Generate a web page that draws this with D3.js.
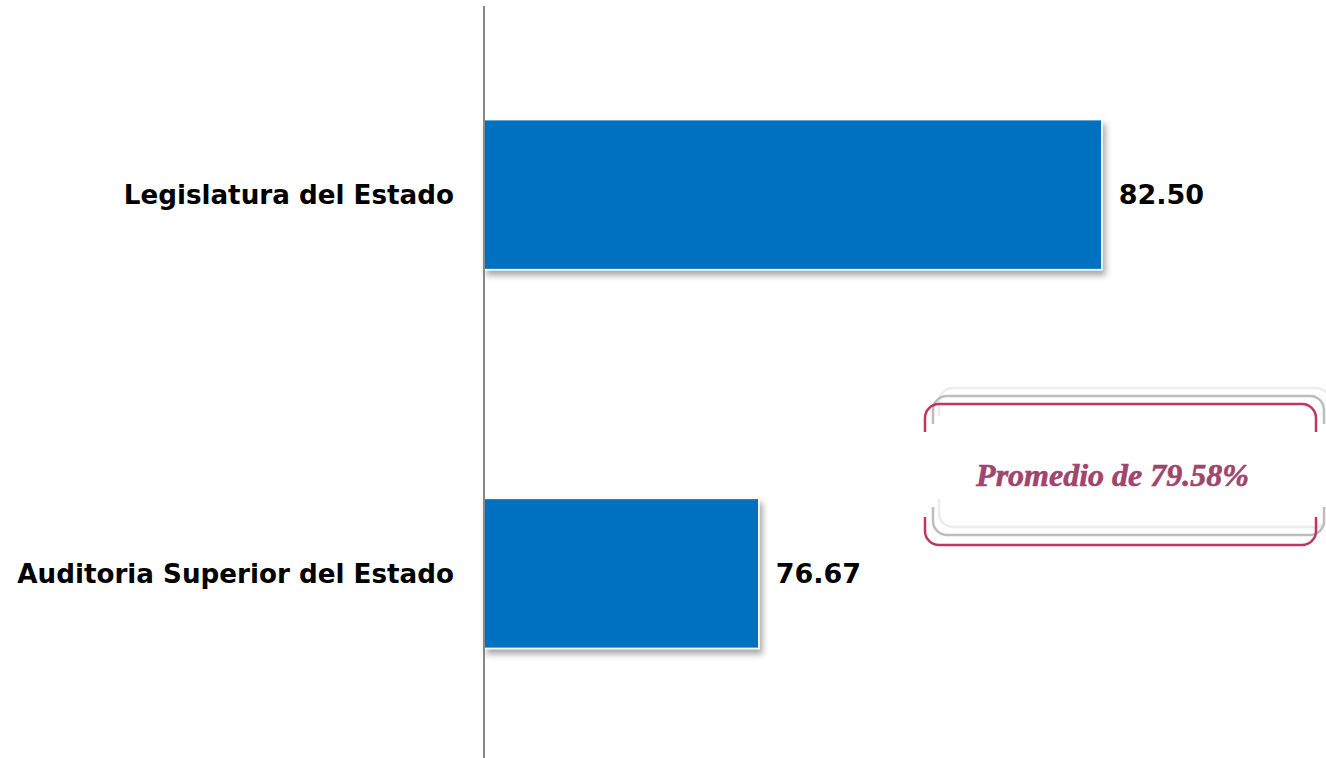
<!DOCTYPE html>
<html>
<head>
<meta charset="utf-8">
<script src="https://cdn.jsdelivr.net/npm/d3@7"></script>
<style>
  html,body{margin:0;padding:0;background:#fff;}
  svg{display:block;}
</style>
</head>
<body>
<svg id="chart" width="1326" height="758"></svg>
<script>
// data
var categories=['Legislatura del Estado','Auditoria Superior del Estado']
var values=[82.50,76.67]
var average=79.58
var calloutText='Promedio de '+average.toFixed(2)+'%'

var svg=d3.select('#chart')
var conf={width:1326,height:758}
var margin={left:484,right:136,top:6,bottom:0}

var defs=svg.append('defs')
var flt=defs.append('filter').attr('id','shadow')
    .attr('x','-5%').attr('y','-5%').attr('width','115%').attr('height','125%')
flt.append('feDropShadow')
    .attr('dx',3).attr('dy',5).attr('stdDeviation',3)
    .attr('flood-color','#000').attr('flood-opacity',0.35)

var x=d3.scaleLinear().domain([72,84]).range([margin.left,conf.width-margin.right])
var y=d3.scaleBand().domain(categories)
    .range([margin.top,762])
    .paddingInner(0.604).paddingOuter(0.3)

var g={
    bars:svg.append('g'),
    axis:svg.append('g'),
    labels:svg.append('g'),
    callout:svg.append('g')
}

g.bars.selectAll('rect')
    .data(values)
    .join('rect')
    .attr('x',x(72))
    .attr('y',(d,i)=>y(categories[i]))
    .attr('width',d=>x(d)-x(72))
    .attr('height',y.bandwidth())
    .attr('fill','#0070C0')
    .attr('stroke','#fff')
    .attr('stroke-width',1.5)
    .attr('filter','url(#shadow)')

// value labels
g.labels.selectAll('text.val')
    .data(values)
    .join('text')
    .attr('class','val')
    .attr('x',d=>x(d)+17)
    .attr('y',(d,i)=>y(categories[i])+y.bandwidth()/2)
    .attr('dy','0.36em')
    .attr('font-family','DejaVu Sans, sans-serif')
    .attr('font-weight','bold')
    .attr('font-size',27)
    .attr('fill','#000')
    .text(d=>d.toFixed(2))

// category axis
var yAxis=d3.axisLeft(y).tickSize(0).tickPadding(30)
g.axis.attr('transform',`translate(${margin.left},0)`).call(yAxis)
g.axis.select('.domain').remove()
g.axis.append('line')
    .attr('x1',0).attr('x2',0)
    .attr('y1',margin.top).attr('y2',conf.height)
    .attr('stroke','#888').attr('stroke-width',2)
g.axis.selectAll('.tick text')
    .attr('font-family','DejaVu Sans, sans-serif')
    .attr('font-weight','bold')
    .attr('font-size',26.2)
    .attr('fill','#000')
    .attr('dy','0.36em')

// callout (bracket style box)
var box={x:925,y:404,w:391,h:141,r:14,arm:14}
function bracket(b){
    var p=d3.path()
    // top arm
    p.moveTo(b.x,b.y+b.r+b.arm)
    p.lineTo(b.x,b.y+b.r)
    p.arcTo(b.x,b.y,b.x+b.r,b.y,b.r)
    p.lineTo(b.x+b.w-b.r,b.y)
    p.arcTo(b.x+b.w,b.y,b.x+b.w,b.y+b.r,b.r)
    p.lineTo(b.x+b.w,b.y+b.r+b.arm)
    // bottom arm
    p.moveTo(b.x,b.y+b.h-b.r-b.arm)
    p.lineTo(b.x,b.y+b.h-b.r)
    p.arcTo(b.x,b.y+b.h,b.x+b.r,b.y+b.h,b.r)
    p.lineTo(b.x+b.w-b.r,b.y+b.h)
    p.arcTo(b.x+b.w,b.y+b.h,b.x+b.w,b.y+b.h-b.r,b.r)
    p.lineTo(b.x+b.w,b.y+b.h-b.r-b.arm)
    return p.toString()
}
var layers=[
    {dx:14,dy:-16,color:'#ececec'},
    {dx:8,dy:-8,color:'#bdbdbd'},
    {dx:0,dy:0,color:'#c0365f'}
]
g.callout.selectAll('path')
    .data(layers)
    .join('path')
    .attr('d',d=>bracket({x:box.x+d.dx,y:box.y+d.dy,w:box.w,h:box.h-(d.dx?2:0),r:box.r,arm:box.arm}))
    .attr('fill','none')
    .attr('stroke',d=>d.color)
    .attr('stroke-width',2.5)
g.callout.append('text')
    .attr('x',box.x+box.w/2-8)
    .attr('y',box.y+82)
    .attr('text-anchor','middle')
    .attr('font-family','Liberation Serif, serif')
    .attr('font-style','italic')
    .attr('font-weight','bold')
    .attr('font-size',32)
    .attr('stroke','#9e466e')
    .attr('stroke-width',0.6)
    .attr('fill','#9e466e')
    .text(calloutText)
</script>
</body>
</html>
